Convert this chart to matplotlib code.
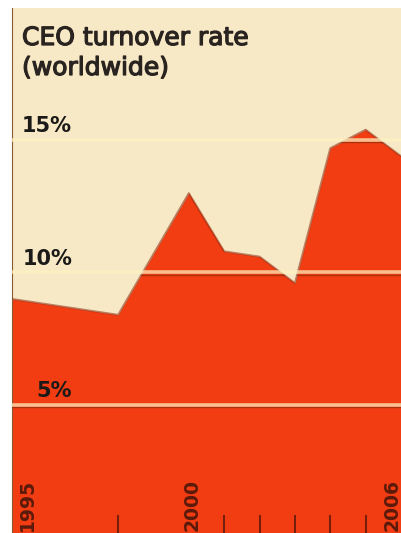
import matplotlib
matplotlib.use("Agg")
import matplotlib.pyplot as plt
import matplotlib.patheffects as pe

# CEO turnover rate (worldwide), percent
years = [1995, 1998, 2000, 2001, 2002, 2003, 2004, 2005, 2006]
turnover = [9.0, 8.4, 13.0, 10.8, 10.6, 9.6, 14.7, 15.4, 14.4]

grid_levels = [5, 10, 15]
grid_labels = ["5%", "10%", "15%"]
labelled_years = [1995, 2000, 2006]
label_x = [1995.45, 2000.1, 2005.75]
minor_years = [1998, 2001, 2002, 2003, 2004, 2005]

W, H = 401, 533
fig = plt.figure(figsize=(W / 100, H / 100), dpi=100)
fig.patch.set_facecolor("white")

ax = fig.add_axes([12 / W, 0, 1 - 12 / W, 525 / H])
ax.set_facecolor("#F7E8C6")
ax.set_xlim(1995, 2006)
ax.set_ylim(0.15, 20)

red = "#F23C12"
area = ax.fill_between(years, turnover, 0, color=red, lw=0, zorder=1)
ax.plot(years, turnover, color="#8A2A0E", lw=1.4, alpha=0.55, zorder=2)
area_path = area.get_paths()[0]

for g, lab in zip(grid_levels, grid_labels):
    # shadow under each rule, visible only on the red area
    shadow, = ax.plot([1995, 2006], [g - 0.08, g - 0.08], color="#6E2A0C",
                      lw=1.0, alpha=0.55, zorder=3)
    shadow.set_clip_path(area_path, ax.transData)
    ax.axhline(g, color="#FFF2C0", lw=2.6, alpha=0.72, zorder=4)
    ax.text(1996.7, g + 0.3, lab, ha="right", va="baseline",
            fontsize=15, fontweight="bold", color="#1c1a18",
            family="DejaVu Sans", zorder=5)

for yr, x in zip(labelled_years, label_x):
    ax.text(x, 2.2, str(yr), rotation=90, ha="center", va="top",
            fontsize=13.5, fontweight="bold", color="#5A1A0A",
            family="DejaVu Sans", zorder=5)

ax.set_xticks(minor_years)
ax.set_xticklabels([])
ax.tick_params(axis="x", direction="in", length=13, width=1.2,
               color="#5A1A0A", bottom=True)
ax.set_yticks([])
for side in ["top", "right", "bottom"]:
    ax.spines[side].set_visible(False)
ax.spines["left"].set_color("#8A5A30")
ax.spines["left"].set_linewidth(0.8)

title_color = "#2A2420"
title_kw = dict(ha="left", va="baseline", fontsize=18, color=title_color,
                family="DejaVu Sans",
                path_effects=[pe.withStroke(linewidth=0.9, foreground=title_color)])
fig.text(22 / W, 1 - 45 / H, "CEO turnover rate", **title_kw)
fig.text(22 / W, 1 - 75 / H, "(worldwide)", **title_kw)

fig.savefig("out.png", dpi=100, facecolor=fig.get_facecolor())
